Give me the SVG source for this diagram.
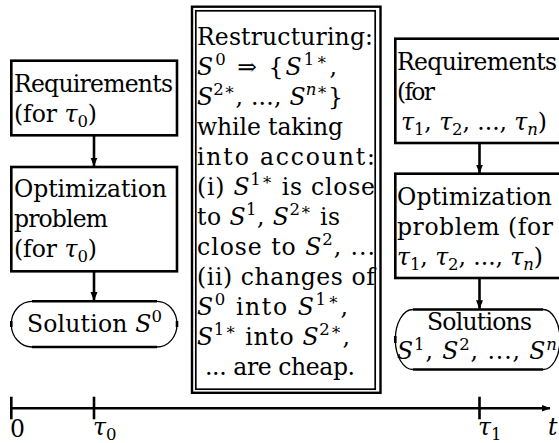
<svg xmlns="http://www.w3.org/2000/svg" width="559" height="443" viewBox="0 0 559 443">
<style>
text{font-size:23.5px;fill:#000}
.m{font-style:italic}
.s{font-size:16.5px}
.box{fill:none;stroke:#000;stroke-width:2.6}
.thin{fill:none;stroke:#000;stroke-width:1.3}
.ln{stroke:#000;stroke-width:2.6;fill:none}
</style>
<defs>
<marker id="ah" markerWidth="9" markerHeight="8" refX="8.5" refY="4" orient="auto" markerUnits="userSpaceOnUse">
<path d="M0,0.5 L9,4 L0,7.5 Z" fill="#000"/>
</marker>
</defs>
<rect width="559" height="443" fill="#fff"/>
<g font-family="DejaVu Serif">

<g id="req0">
<rect class="box" x="11.3" y="60.7" width="165.7" height="74.6"/>
<text x="14" y="92" textLength="159">Requirements</text>
<text x="14" y="122" textLength="83">(for <tspan class="m">τ</tspan><tspan class="s" dy="5">0</tspan><tspan dy="-5">)</tspan></text>
</g>

<g id="opt0">
<rect class="box" x="11.3" y="167" width="165.7" height="104.3"/>
<text x="14" y="197" textLength="153">Optimization</text>
<text x="14" y="227" textLength="94">problem</text>
<text x="14" y="257" textLength="83">(for <tspan class="m">τ</tspan><tspan class="s" dy="5">0</tspan><tspan dy="-5">)</tspan></text>
</g>

<g id="sol0">
<line class="ln" x1="32" y1="301.3" x2="157" y2="301.3"/>
<line class="ln" x1="32" y1="347" x2="157" y2="347"/>
<path class="thin" d="M32,301.3 A20.7,22.85 0 0 0 32,347"/>
<path class="thin" d="M157,301.3 A20,22.85 0 0 1 157,347"/>
<line class="ln" x1="11.3" y1="321" x2="11.3" y2="327"/>
<line class="ln" x1="177" y1="321" x2="177" y2="327"/>
<text x="27" y="332" textLength="135">Solution <tspan class="m">S</tspan><tspan class="s" dy="-10">0</tspan></text>
</g>

<g id="restructuring">
<rect fill="none" stroke="#000" stroke-width="2.4" x="192" y="6.7" width="188.5" height="386.1"/>
<rect fill="none" stroke="#000" stroke-width="1.7" x="195.8" y="10.8" width="179.4" height="378.4"/>
<text x="197" y="45" textLength="176">Restructuring:</text>
<text x="197" y="75" textLength="140"><tspan class="m">S</tspan><tspan class="s" dy="-10">0</tspan><tspan dy="10"> ⇒ {</tspan><tspan class="m">S</tspan><tspan class="s" dy="-10">1∗</tspan><tspan dy="10">,</tspan></text>
<text x="197" y="105" textLength="146"><tspan class="m">S</tspan><tspan class="s" dy="-10">2∗</tspan><tspan dy="10">, ..., </tspan><tspan class="m">S</tspan><tspan class="s m" dy="-10">n</tspan><tspan class="s">∗</tspan><tspan dy="10">}</tspan></text>
<text x="197" y="135" textLength="146">while taking</text>
<text x="197" y="165" textLength="178">into account:</text>
<text x="197" y="195" textLength="178">(i) <tspan class="m">S</tspan><tspan class="s" dy="-10">1∗</tspan><tspan dy="10"> is close</tspan></text>
<text x="197" y="225" textLength="143">to <tspan class="m">S</tspan><tspan class="s" dy="-10">1</tspan><tspan dy="10">, </tspan><tspan class="m">S</tspan><tspan class="s" dy="-10">2∗</tspan><tspan dy="10"> is</tspan></text>
<text x="197" y="255" textLength="178">close to <tspan class="m">S</tspan><tspan class="s" dy="-10">2</tspan><tspan dy="10">, ...</tspan></text>
<text x="197" y="285" textLength="178">(ii) changes of</text>
<text x="197" y="315" textLength="151"><tspan class="m">S</tspan><tspan class="s" dy="-10">0</tspan><tspan dy="10"> into </tspan><tspan class="m">S</tspan><tspan class="s" dy="-10">1∗</tspan><tspan dy="10">,</tspan></text>
<text x="197" y="345" textLength="153"><tspan class="m">S</tspan><tspan class="s" dy="-10">1∗</tspan><tspan dy="10"> into </tspan><tspan class="m">S</tspan><tspan class="s" dy="-10">2∗</tspan><tspan dy="10">,</tspan></text>
<text x="205" y="375" textLength="150">... are cheap.</text>
</g>

<g id="req1">
<rect class="box" x="395.3" y="38.7" width="170" height="104.3"/>
<text x="397" y="70" textLength="160">Requirements</text>
<text x="397" y="100" textLength="38">(for</text>
<text x="401" y="130" textLength="146"><tspan class="m">τ</tspan><tspan class="s" dy="5">1</tspan><tspan dy="-5">, </tspan><tspan class="m">τ</tspan><tspan class="s" dy="5">2</tspan><tspan dy="-5">, ..., </tspan><tspan class="m">τ</tspan><tspan class="s m" dy="5">n</tspan><tspan dy="-5">)</tspan></text>
</g>

<g id="opt1">
<rect class="box" x="395.3" y="173.7" width="170" height="104.3"/>
<text x="397" y="205" textLength="155">Optimization</text>
<text x="397" y="235" textLength="156">problem (for</text>
<text x="397" y="265" textLength="146"><tspan class="m">τ</tspan><tspan class="s" dy="5">1</tspan><tspan dy="-5">, </tspan><tspan class="m">τ</tspan><tspan class="s" dy="5">2</tspan><tspan dy="-5">, ..., </tspan><tspan class="m">τ</tspan><tspan class="s m" dy="5">n</tspan><tspan dy="-5">)</tspan></text>
</g>

<g id="sol1">
<line class="ln" x1="413" y1="309.5" x2="543" y2="309.5"/>
<line class="ln" x1="413" y1="369.5" x2="543" y2="369.5"/>
<path class="thin" d="M413,309.5 A17.7,30 0 0 0 413,369.5"/>
<path class="thin" d="M543,309.5 A17,30 0 0 1 543,369.5"/>
<line class="ln" x1="395.3" y1="336" x2="395.3" y2="343"/>
<text x="427" y="330" textLength="105">Solutions</text>
<text x="397" y="359" textLength="160"><tspan class="m">S</tspan><tspan class="s" dy="-9">1</tspan><tspan dy="9">, </tspan><tspan class="m">S</tspan><tspan class="s" dy="-9">2</tspan><tspan dy="9">, ..., </tspan><tspan class="m">S</tspan><tspan class="s m" dy="-9">n</tspan></text>
</g>

<g id="axis">
<line class="ln" x1="11.3" y1="408.3" x2="550" y2="408.3" marker-end="url(#ah)"/>
<line class="ln" x1="11.3" y1="396.7" x2="11.3" y2="419.3"/>
<line class="ln" x1="94" y1="396.7" x2="94" y2="419.3"/>
<line class="ln" x1="479.5" y1="396.7" x2="479.5" y2="419.3"/>
<text x="10" y="437">0</text>
<text x="93" y="435"><tspan class="m">τ</tspan><tspan class="s" dy="5">0</tspan></text>
<text x="478" y="435"><tspan class="m">τ</tspan><tspan class="s" dy="5">1</tspan></text>
<text class="m" x="548" y="435">t</text>
</g>

<g id="connectors">
<line class="ln" x1="94" y1="136" x2="94" y2="166" marker-end="url(#ah)"/>
<line class="ln" x1="94" y1="271.3" x2="94" y2="300.5" marker-end="url(#ah)"/>
<line class="ln" x1="479.5" y1="143" x2="479.5" y2="173" marker-end="url(#ah)"/>
<line class="ln" x1="479.5" y1="278" x2="479.5" y2="308.7" marker-end="url(#ah)"/>
</g>
</g>
</svg>
